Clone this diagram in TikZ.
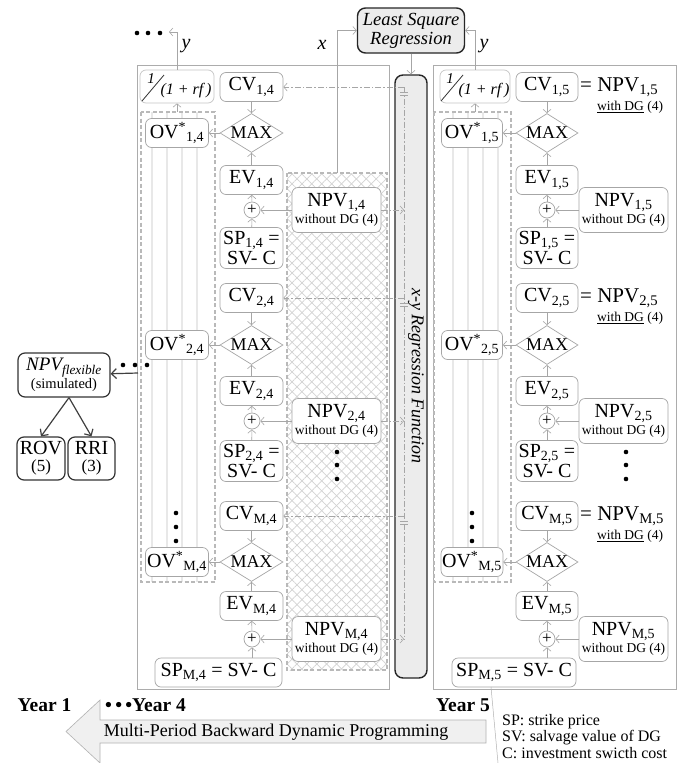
\documentclass[tikz,border=0pt]{standalone}
\usepackage{fontspec}
\setmainfont{Liberation Serif}
\usetikzlibrary{arrows.meta,shapes.geometric,patterns.meta}
\newcommand{\fs}[2]{\fontsize{#1}{#2}\selectfont}
\newcommand{\sbs}[1]{\textsubscript{#1}}
\newcommand{\sps}[1]{\textsuperscript{#1}}
\begin{document}
\begin{tikzpicture}[x=1pt,y=-1pt,
 bx/.style={draw=gray!70, line width=0.7pt, rounded corners=6pt, fill=white, inner sep=1pt, align=center, font=\fs{20}{21}},
 cvb/.style={bx, minimum width=63pt, minimum height=29pt},
 spb/.style={bx, minimum width=63pt, minimum height=41pt, font=\fs{20}{20.5}},
 npvb/.style={bx, minimum width=89pt, minimum height=45pt},
 maxd/.style={diamond, draw=gray!70, line width=0.7pt, fill=white, minimum width=63pt, minimum height=39pt, inner sep=0pt, aspect=1.6, font=\fs{18}{18}},
 plusc/.style={circle, draw=gray!70, line width=0.7pt, fill=white, minimum size=16pt, inner sep=0pt, font=\fs{17}{17}},
 frb/.style={draw=gray!45, line width=0.7pt, rounded corners=6pt, fill=white, minimum width=74pt, minimum height=33pt, inner sep=0pt},
 barb/.style={-{Straight Barb[length=3.5pt,width=8pt]}},
 arr/.style={draw=gray!70, line width=0.6pt, barb},
 darr/.style={draw=black!75, line width=1.2pt, -{Straight Barb[length=5pt,width=10pt]}},
 dda/.style={draw=gray!70, line width=0.6pt, dash pattern=on 6pt off 2pt on 1.5pt off 2pt},
 panel/.style={draw=gray!65, line width=0.7pt},
 dbox/.style={draw=gray!55, line width=2.4pt, dash pattern=on 4pt off 2.5pt},
 lightln/.style={draw=gray!18, line width=2pt},
 darkb/.style={draw=black!85, line width=1.4pt, rounded corners=8pt, fill=gray!15},
 dkb/.style={draw=black!80, line width=1.2pt, rounded corners=7pt, fill=white, align=center, inner sep=1pt},
 lbl/.style={font=\fs{21}{21}, inner sep=0pt},
 smalll/.style={font=\fs{13.5}{14}, inner sep=0pt}
]
\useasboundingbox (0,0) rectangle (687,763);
\fill[white] (0,0) rectangle (687,763);

% panels
\draw[panel] (137,65) rectangle (389,689);
\draw[panel] (433,65) rectangle (676,689);

% hatched NPV area (year 4)
\fill[pattern={Lines[angle=45,distance=7pt,line width=0.7pt]},pattern color=gray!35] (287,173) rectangle (387,670);
\fill[pattern={Lines[angle=-45,distance=7pt,line width=0.7pt]},pattern color=gray!35] (287,173) rectangle (387,670);
\draw[dbox] (287,173) rectangle (387,670);

% OV columns
\foreach \x in {152,167,182,197} \draw[lightln] (\x,112) -- (\x,582);
\foreach \x in {453,468,483,498} \draw[lightln] (\x,112) -- (\x,582);
\draw[dbox] (141,112) rectangle (215,582);
\draw[dbox] (434,112) rectangle (511,582);

% regression bar and LSR
\node[darkb, minimum width=32pt, minimum height=603pt] (bar) at (411,376.5) {};
\node[rotate=-90, font=\fs{18}{18}\itshape, inner sep=0pt] (bart) at (416,376) {x-y Regression Function};
\node[darkb, minimum width=107pt, minimum height=45pt, align=center, font=\fs{18.5}{19}\itshape, inner sep=1pt] (lsr) at (411,30.5) {Least Square\\Regression};
\draw[arr] (lsr) -- (bar);
\coordinate (bl) at (404,87);
\coordinate (blb) at (404,640);
\draw[dda] (bl) -- (blb);

% discount boxes
\node[frb] (fr4) at (177,86.5) {};
\node[font=\fs{15}{15}\itshape, inner sep=0pt] (fr4a) at (151,79) {1};
\draw[black!80, line width=0.8pt] (142,101) -- (164,75);
\node[font=\fs{16}{16}\itshape, inner sep=0pt] (fr4b) at (186,91) {(1 + rf\,)};
\node[frb, minimum width=70pt] (fr5) at (475,86.5) {};
\node[font=\fs{15}{15}\itshape, inner sep=0pt] (fr5a) at (450,79) {1};
\draw[black!80, line width=0.8pt] (441,101) -- (463,75);
\node[font=\fs{16}{16}\itshape, inner sep=0pt] (fr5b) at (484,91) {(1 + rf\,)};
\coordinate (ovt4) at (177,112);
\coordinate (ovt5) at (475,112);
\draw[arr] (ovt4) -- (fr4);
\draw[arr] (ovt5) -- (fr5);

% x and y connectors
\coordinate (hx) at (337,173);
\draw[arr] (hx) |- (lsr.west);
\draw[arr] (fr5.north) |- (lsr.east);
\coordinate (ydl) at (169,32);
\draw[arr] (fr4.north) |- (ydl);
\foreach \x in {137,148,160} \fill (\x,33) circle[radius=2.3pt];
\node[font=\fs{20}{20}\itshape, inner sep=0pt] (ylab4) at (186,46) {y};
\node[font=\fs{20}{20}\itshape, inner sep=0pt] (xlab) at (322,45) {x};
\node[font=\fs{20}{20}\itshape, inner sep=0pt] (ylab5) at (484,46) {y};

% Year 4 blocks
\foreach \k/\c/\m/\e/\p in {1/87/133/180/210, 2/298/345/391/421, M/516/562/606/639}{
  \node[cvb] (cva\k) at (251.5,\c) {CV\sbs{\k,4}};
  \node[maxd] (mxa\k) at (251.5,\m) {MAX};
  \node[cvb] (ova\k) at (177,\m) {OV\sps{*}\sbs{\k,4}};
  \node[cvb] (eva\k) at (251.5,\e) {EV\sbs{\k,4}};
  \node[plusc] (pla\k) at (252,\p) {+};
  \node[npvb, font=\fs{20}{20}] (npa\k) at (336.5,\p) {NPV\sbs{\k,4}\\[-3pt]{\fs{13.5}{14}without DG (4)}};
  \draw[arr] (cva\k) -- (mxa\k);
  \draw[arr] (eva\k) -- (mxa\k);
  \draw[arr] (mxa\k) -- (ova\k);
  \draw[arr] (pla\k) -- (eva\k);
  \draw[arr] (npa\k) -- (pla\k);
  \draw[dda, barb] (npa\k.east) -- (npa\k.east -| bl);
  \draw[dda, barb] (cva\k.east -| bl) -- (cva\k.east);
  \draw[gray!70, line width=0.5pt] (400,\c+5) -- (408,\c+5) (400,\c+8) -- (408,\c+8);
}
\node[spb] (spa1) at (251.5,248) {SP\sbs{1,4} =\\SV- C};
\node[spb] (spa2) at (251.5,461) {SP\sbs{2,4} =\\SV- C};
\node[bx, minimum width=127pt, minimum height=29pt] (spaM) at (218.5,672.5) {SP\sbs{M,4} = SV- C};
\draw[arr] (spa1) -- (pla1);
\draw[arr] (spa2) -- (pla2);
\draw[arr] (spaM.north -| plaM) -- (plaM);

% Year 5 blocks
\foreach \k/\c/\m/\e/\p in {1/87/133/180/210, 2/298/345/391/421, M/516/562/606/639}{
  \node[cvb, minimum width=62pt] (cvb\k) at (547,\c) {CV\sbs{\k,5}};
  \node[maxd, minimum width=62pt] (mxb\k) at (547,\m) {MAX};
  \node[cvb, minimum width=61pt] (ovb\k) at (472,\m) {OV\sps{*}\sbs{\k,5}};
  \node[cvb, minimum width=62pt] (evb\k) at (547,\e) {EV\sbs{\k,5}};
  \node[plusc] (plb\k) at (547,\p) {+};
  \node[npvb, font=\fs{20}{20}] (npb\k) at (623.5,\p) {NPV\sbs{\k,5}\\[-3pt]{\fs{13.5}{14}without DG (4)}};
  \node[lbl, anchor=west] (eqb\k) at (580,\c) {= NPV\sbs{\k,5}};
  \node[smalll] (dgb\k) at (630,\c+20) {\underline{with DG} (4)};
  \draw[arr] (cvb\k) -- (mxb\k);
  \draw[arr] (evb\k) -- (mxb\k);
  \draw[arr] (mxb\k) -- (ovb\k);
  \draw[arr] (plb\k) -- (evb\k);
  \draw[arr] (npb\k) -- (plb\k);
}
\node[spb, minimum width=62pt] (spb1) at (547,248) {SP\sbs{1,5} =\\SV- C};
\node[spb, minimum width=62pt] (spb2) at (547,461) {SP\sbs{2,5} =\\SV- C};
\node[bx, minimum width=124pt, minimum height=29pt] (spbM) at (514,672.5) {SP\sbs{M,5} = SV- C};
\draw[arr] (spb1) -- (plb1);
\draw[arr] (spb2) -- (plb2);
\draw[arr] (spbM.north -| plbM) -- (plbM);

% vertical dots
\foreach \y in {452,465,479} {\fill (337,\y) circle[radius=2.3pt]; \fill (626,\y) circle[radius=2.3pt];}
\foreach \y in {513,527,541} {\fill (176,\y) circle[radius=2.3pt]; \fill (472,\y) circle[radius=2.3pt];}

% NPV flexible
\node[dkb, minimum width=92pt, minimum height=44pt, font=\fs{19}{19}] (nf) at (64,375) {{\itshape NPV\sbs{flexible}}\\[-1pt]{\fs{14.5}{15}(simulated)}};
\node[dkb, minimum width=48pt, minimum height=43pt, font=\fs{20}{19}] (rov) at (41,458.5) {ROV\\[-2pt]{\fs{17}{17}(5)}};
\node[dkb, minimum width=47pt, minimum height=43pt, font=\fs{20}{19}] (rri) at (91.5,458.5) {RRI\\[-2pt]{\fs{17}{17}(3)}};
\draw[darr] ([xshift=5pt]nf.south) -- (rov.north);
\draw[darr] ([xshift=5pt]nf.south) -- (rri.north);
\coordinate (fd) at (138,373);
\draw[darr] (fd) -- (nf);
\foreach \x in {123,135,147} \fill (\x,365) circle[radius=2.3pt];

% bottom: years and arrow
\node[font=\fs{19.5}{19}\bfseries, inner sep=0pt] (y1) at (44.5,705) {Year 1};
\node[font=\fs{19.5}{19}\bfseries, inner sep=0pt, anchor=west] (y4) at (105,705) {\textbullet\,\textbullet\,\textbullet Year 4};
\node[font=\fs{19.5}{19}\bfseries, inner sep=0pt, anchor=east] (y5) at (490,705) {Year 5};
\draw[gray!60, fill=gray!12, line width=0.6pt] (486,720) -- (100,720) -- (100,700) -- (66,731.5) -- (100,763) -- (100,743) -- (486,743) -- cycle;
\node[lbl, font=\fs{18}{18}] (mpb) at (276,732) {Multi-Period Backward Dynamic Programming};

% legend
\coordinate (lg1) at (491,687);
\coordinate (lg2) at (498,763);
\draw[gray!60, line width=0.5pt] (lg1) -- (lg2);
\node[font=\fs{16}{16}, inner sep=0pt, anchor=west] (lga) at (502,722) {SP: strike price};
\node[font=\fs{16}{16}, inner sep=0pt, anchor=west] (lgb) at (502,737.5) {SV: salvage value of DG};
\node[font=\fs{16}{16}, inner sep=0pt, anchor=west] (lgc) at (502,753) {C: investment swicth cost};
\end{tikzpicture}
\end{document}
